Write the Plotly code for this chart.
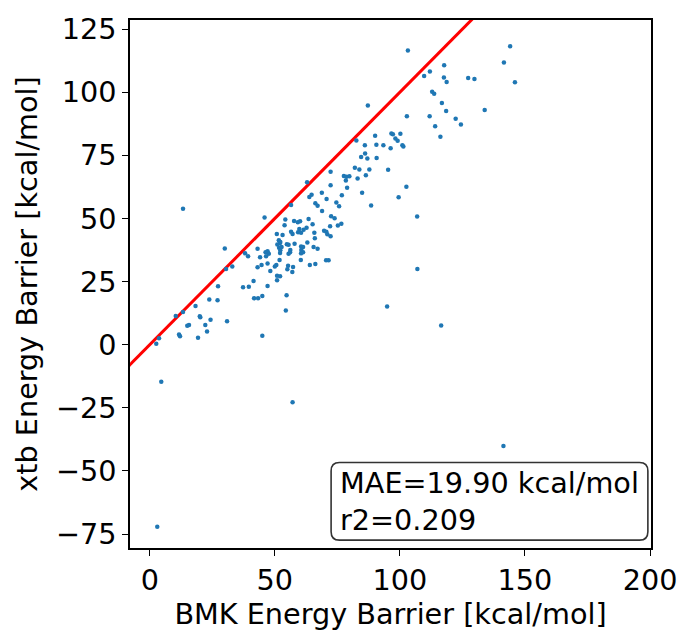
import plotly.graph_objects as go

bmk = [103.2,144.1,141.6,146.0,117.7,112.0,109.7,117.6,118.7,127.3,129.8,112.9,113.7,116.8,118.5,133.9,102.8,111.9,122.3,114.1,
       124.4,116.2,96.6,97.2,100.2,98.2,99.1,101.0,101.4,96.3,95.3,102.6,99.5,106.9,107.0,94.9,116.5,4.6,57.1,3.0,
       141.4,13.3,87.2,82.6,90.1,86.0,90.6,93.4,86.1,84.5,87.0,90.7,82.0,83.8,87.8,72.3,77.6,78.6,79.8,78.4,
       86.4,83.1,62.9,72.3,78.9,84.9,68.8,64.7,63.8,76.8,70.7,56.5,66.2,67.1,74.6,75.7,88.5,68.9,45.9,54.2,
       57.7,59.2,60.1,63.5,72.5,73.9,53.9,65.1,72.1,75.2,76.6,62.7,61.5,59.8,60.5,59.3,56.5,57.1,50.8,53.1,
       65.8,69.7,70.6,71.0,72.3,66.0,51.6,52.0,51.0,52.2,54.8,55.5,57.9,63.0,51.7,52.2,52.1,52.7,60.5,61.3,
       60.6,61.3,60.5,56.2,56.1,55.5,65.5,67.1,47.1,47.6,46.3,43.1,30.0,38.1,39.3,44.1,46.5,44.7,43.1,47.1,
       51.9,60.4,64.0,66.2,70.5,71.5,33.0,30.5,48.2,50.0,50.6,55.3,57.3,55.0,57.0,50.9,52.1,50.9,41.5,47.1,
       27.3,37.3,39.6,41.7,43.3,45.0,54.7,54.4,23.8,27.1,18.3,10.4,13.3,20.0,20.2,24.3,30.9,15.7,15.0,22.2,
       22.9,11.7,12.1,19.3,45.0,3.7,2.6]
xtb = [116.5,118.2,111.8,103.9,110.7,108.2,106.4,105.8,104.0,105.6,105.2,100.2,99.4,95.7,92.6,93.0,90.5,90.5,89.5,86.5,
       87.2,82.4,83.7,83.4,83.6,81.7,80.8,79.0,78.5,77.8,69.3,62.6,58.4,50.8,30.0,15.1,7.6,-14.7,-22.8,-72.1,
       -40.1,53.9,94.7,80.9,82.8,79.0,79.2,79.0,75.7,74.3,73.8,73.9,70.1,69.4,69.4,68.5,66.8,66.5,66.7,65.0,
       67.1,65.8,64.3,63.2,62.2,60.2,60.2,59.4,58.5,59.2,57.7,55.3,56.0,55.0,56.3,54.8,55.1,53.0,50.4,49.6,
       49.0,48.5,48.9,49.8,50.9,50.1,47.3,47.7,46.9,47.2,47.9,46.3,45.5,45.8,44.3,44.5,44.7,43.9,43.9,43.5,
       44.3,45.1,44.7,43.8,43.0,42.2,41.4,40.2,39.7,40.7,39.8,39.6,40.0,40.5,38.4,37.4,36.3,38.7,38.9,38.7,
       37.5,36.6,36.2,37.5,36.6,36.0,38.7,38.0,37.0,36.0,36.6,38.0,38.1,36.2,35.0,34.6,35.0,31.6,30.7,32.2,
       33.6,33.6,31.6,32.0,33.5,33.5,31.0,30.0,29.2,31.0,31.6,31.3,30.8,29.9,28.8,27.3,27.1,25.5,25.2,23.3,
       23.2,22.8,23.0,18.4,18.4,19.3,19.6,13.6,17.9,17.6,15.3,11.4,13.0,11.3,10.9,9.9,9.3,7.8,7.5,7.8,
       5.2,4.1,3.4,2.8,3.6,2.6,0.4]

identity = [-10, 210]
x_ticks = [0, 50, 100, 150, 200]
y_ticks = [-75, -50, -25, 0, 25, 50, 75, 100, 125]
y_tick_text = ["\u221275", "\u221250", "\u221225", "0", "25", "50", "75", "100", "125"]
stats_text = "MAE=19.90 kcal/mol<br>r2=0.209"

FONT = "DejaVu Sans"
FS = 28.7

fig = go.Figure()
fig.add_trace(go.Scatter(x=identity, y=identity, mode="lines",
                         line=dict(color="red", width=3), showlegend=False, hoverinfo="skip"))
fig.add_trace(go.Scatter(x=bmk, y=xtb, mode="markers",
                         marker=dict(color="#1f77b4", size=4.5, line=dict(width=0)),
                         showlegend=False))

axis_common = dict(showline=True, linecolor="black", linewidth=1.6, mirror=True,
                   ticks="outside", ticklen=6, tickwidth=1.4, tickcolor="black",
                   showgrid=False, zeroline=False, ticklabeloverflow="allow",
                   tickfont=dict(family=FONT, size=FS, color="black"))

fig.update_layout(
    width=689, height=637,
    margin=dict(l=130, r=31, t=18, b=89),
    paper_bgcolor="white", plot_bgcolor="white",
    hovermode=False,
    xaxis=dict(range=[-7.9, 200.4], tickvals=x_ticks,
               title=dict(text="BMK Energy Barrier [kcal/mol]", font=dict(family=FONT, size=FS, color="black"), standoff=6),
               **axis_common),
    yaxis=dict(range=[-80.5, 128.6], tickvals=y_ticks, ticktext=y_tick_text,
               title=dict(text="xtb Energy Barrier [kcal/mol]", font=dict(family=FONT, size=FS, color="black"), standoff=10),
               **axis_common),
)

# rounded stats box
x0, x1, y0, y1 = 0.386, 0.994, 0.015, 0.162
rx, ry = 0.016, 0.016
path = (f"M {x0+rx},{y0} L {x1-rx},{y0} Q {x1},{y0} {x1},{y0+ry} "
        f"L {x1},{y1-ry} Q {x1},{y1} {x1-rx},{y1} L {x0+rx},{y1} Q {x0},{y1} {x0},{y1-ry} "
        f"L {x0},{y0+ry} Q {x0},{y0} {x0+rx},{y0} Z")
fig.add_shape(type="path", path=path, xref="paper", yref="paper",
              line=dict(color="#333333", width=1.6), fillcolor="white", layer="above")
fig.add_annotation(x=0.4, y=0.0885, xref="paper", yref="paper", text=stats_text,
                   showarrow=False, xanchor="left", yanchor="middle", align="left",
                   font=dict(family=FONT, size=FS, color="black"))

fig.write_html("out.html", config={"displayModeBar": False},
               post_script="document.body.style.margin='0';")
